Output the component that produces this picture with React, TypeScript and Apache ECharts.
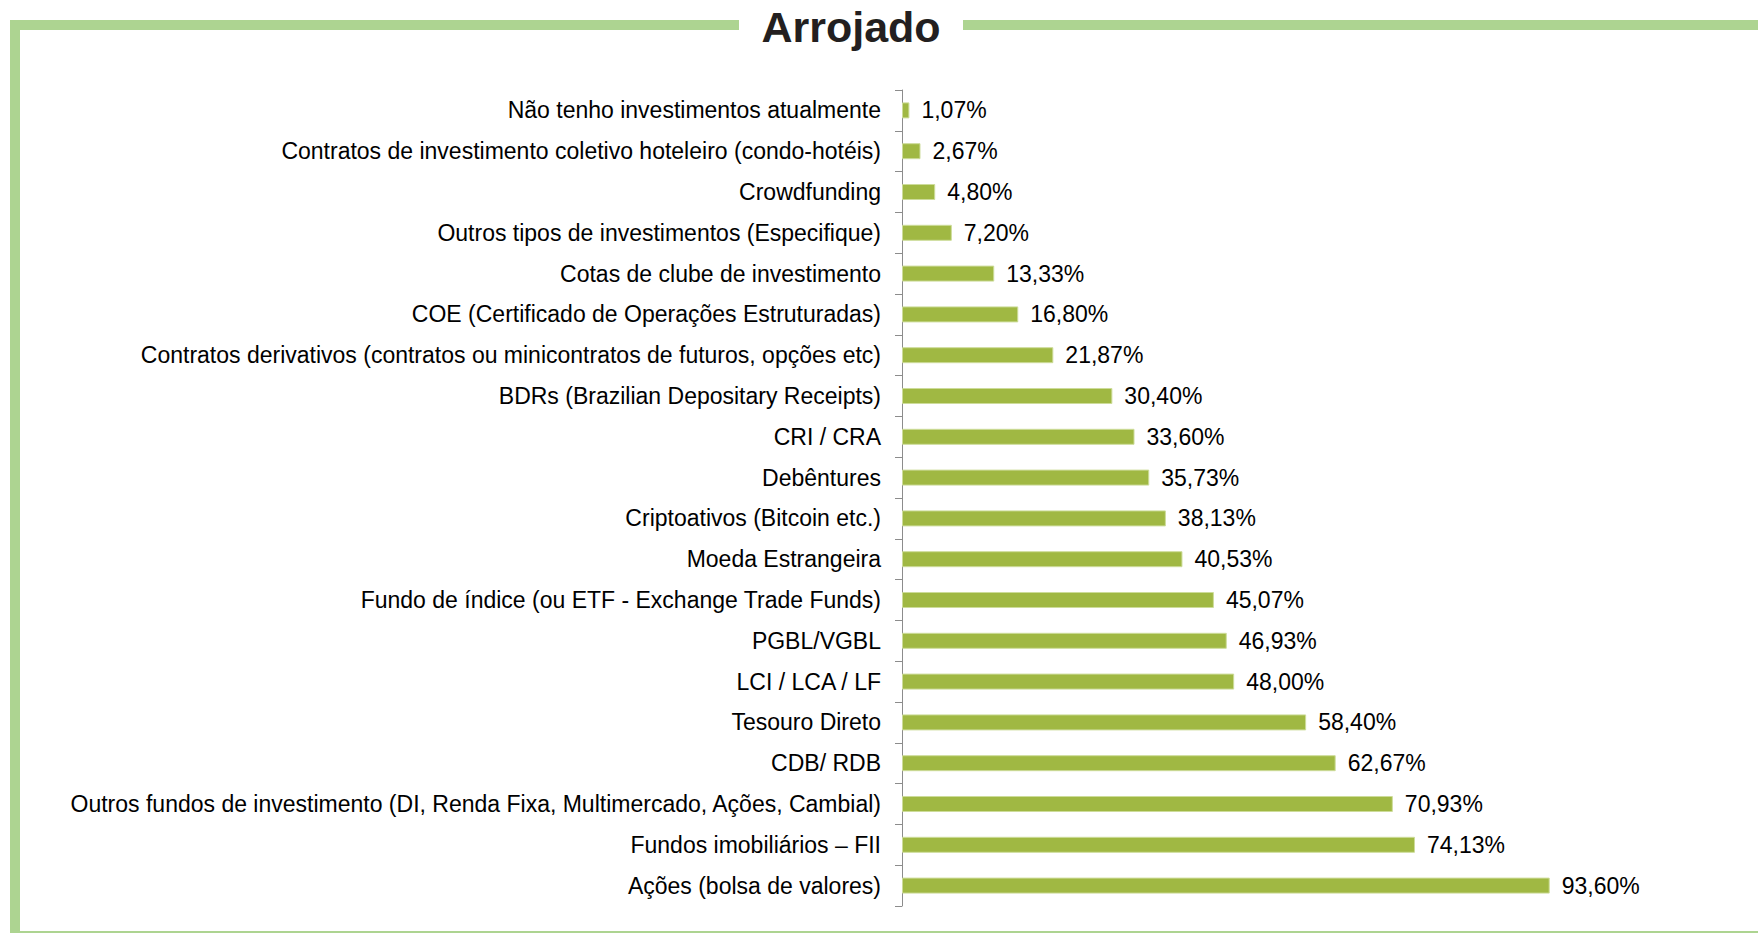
import React, { useEffect, useRef } from "react";
import * as echarts from "echarts";

const categories = [
  "Não tenho investimentos atualmente",
  "Contratos de investimento coletivo hoteleiro (condo-hotéis)",
  "Crowdfunding",
  "Outros tipos de investimentos (Especifique)",
  "Cotas de clube de investimento",
  "COE (Certificado de Operações Estruturadas)",
  "Contratos derivativos (contratos ou minicontratos de futuros, opções etc)",
  "BDRs (Brazilian Depositary Receipts)",
  "CRI / CRA",
  "Debêntures",
  "Criptoativos (Bitcoin etc.)",
  "Moeda Estrangeira",
  "Fundo de índice (ou ETF - Exchange Trade Funds)",
  "PGBL/VGBL",
  "LCI / LCA / LF",
  "Tesouro Direto",
  "CDB/ RDB",
  "Outros fundos de investimento (DI, Renda Fixa, Multimercado, Ações, Cambial)",
  "Fundos imobiliários – FII",
  "Ações (bolsa de valores)",
];

const values = [
  1.07, 2.67, 4.8, 7.2, 13.33, 16.8, 21.87, 30.4, 33.6, 35.73, 38.13, 40.53,
  45.07, 46.93, 48.0, 58.4, 62.67, 70.93, 74.13, 93.6,
];

const title = "Arrojado";

const FRAME = "#add491";
const BAR = "#a0b843";

export default function App() {
  const ref = useRef<HTMLDivElement>(null);
  useEffect(() => {
    if (!ref.current) return;
    const chart = echarts.init(ref.current, undefined, { renderer: "svg" });
    chart.setOption({
      animation: false,
      backgroundColor: "#ffffff",
      textStyle: { fontFamily: "Liberation Sans, Arial, sans-serif" },
      grid: { left: 902, right: 164, top: 90, bottom: 27, containLabel: false },
      xAxis: {
        type: "value",
        min: 0,
        max: 100,
        show: false,
      },
      yAxis: {
        type: "category",
        data: categories,
        inverse: true,
        axisLine: { show: true, lineStyle: { color: "#8c8c8c", width: 1 } },
        axisTick: { show: true, length: 7, lineStyle: { color: "#8c8c8c" } },
        axisLabel: {
          margin: 21,
          fontSize: 23,
          color: "#000000",
          fontFamily: "Liberation Sans, Arial, sans-serif",
        },
      },
      series: [
        {
          type: "bar",
          data: values,
          barWidth: 16,
          itemStyle: { color: BAR, borderColor: "#cddc9a", borderWidth: 1 },
          label: {
            show: true,
            position: "right",
            distance: 12,
            fontSize: 23,
            color: "#000000",
            fontFamily: "Liberation Sans, Arial, sans-serif",
            formatter: (p: any) => p.value.toFixed(2).replace(".", ",") + "%",
          },
        },
      ],
      graphic: [
        { type: "rect", shape: { x: 10, y: 20, width: 729, height: 10 }, style: { fill: FRAME } },
        { type: "rect", shape: { x: 963, y: 20, width: 795, height: 10 }, style: { fill: FRAME } },
        { type: "rect", shape: { x: 10, y: 20, width: 10, height: 913 }, style: { fill: FRAME } },
        { type: "rect", shape: { x: 20, y: 931, width: 1738, height: 2 }, style: { fill: FRAME } },
        {
          type: "text",
          x: 851,
          y: 27,
          style: {
            text: title,
            fill: "#231f20",
            font: "bold 43px Liberation Sans, Arial, sans-serif",
            textAlign: "center",
            textVerticalAlign: "middle",
          },
        },
      ],
    });
    return () => chart.dispose();
  }, []);
  return (
    <div
      ref={ref}
      style={{ position: "fixed", left: 0, top: 0, width: 1758, height: 933 }}
    />
  );
}
